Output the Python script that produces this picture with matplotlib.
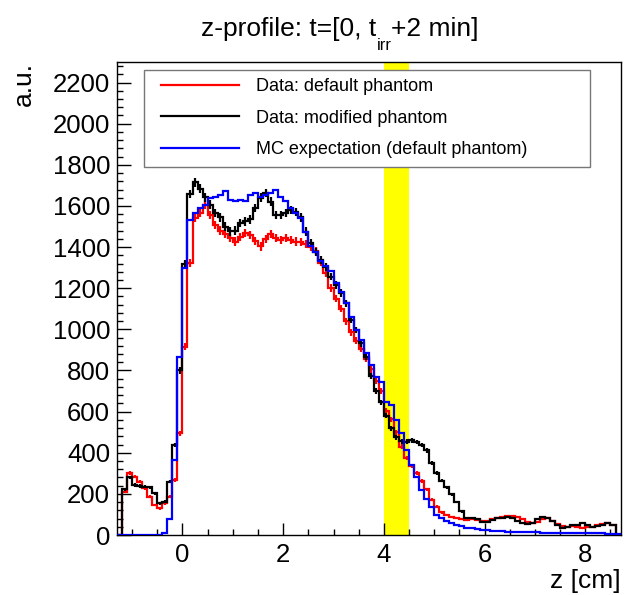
import numpy as np
import matplotlib
matplotlib.use("Agg")
import matplotlib.pyplot as plt
from matplotlib.lines import Line2D
from matplotlib.patches import Rectangle
from matplotlib.ticker import MultipleLocator

# ── Datos (100 bins de 0.1 cm entre -1.3 y 8.7 cm) ─────────────────────────────
z_edges = np.linspace(-1.3, 8.7, 101)

data_default = [
    0, 211, 300, 284, 260, 227, 187, 146, 130, 154,
    187, 268, 495, 916, 1322, 1541, 1565, 1606, 1557, 1508,
    1480, 1465, 1444, 1427, 1450, 1468, 1460, 1430, 1403, 1440,
    1465, 1444, 1436, 1444, 1436, 1427, 1425, 1415, 1400, 1380,
    1325, 1275, 1200, 1150, 1100, 1040, 985, 945, 905, 855,
    805, 748, 700, 605, 562, 500, 430, 375, 338, 300,
    264, 222, 172, 138, 110, 97, 89, 81, 76, 71,
    76, 73, 70, 70, 76, 81, 86, 93, 93, 86,
    76, 65, 57, 65, 76, 81, 70, 54, 44, 41,
    44, 38, 33, 38, 41, 47, 54, 57, 49, 0,
]
data_modified = [
    0, 222, 280, 243, 238, 235, 232, 203, 154, 162,
    260, 438, 800, 1318, 1658, 1716, 1683, 1642, 1606, 1565,
    1545, 1500, 1476, 1480, 1517, 1525, 1535, 1590, 1640, 1663,
    1620, 1557, 1557, 1565, 1581, 1570, 1545, 1475, 1418, 1377,
    1336, 1303, 1257, 1217, 1176, 1127, 1046, 997, 932, 868,
    775, 700, 645, 580, 520, 475, 455, 454, 460, 452,
    438, 412, 350, 300, 265, 232, 198, 160, 115, 82,
    81, 76, 65, 65, 73, 81, 81, 86, 81, 70,
    60, 54, 60, 76, 86, 81, 70, 49, 33, 38,
    49, 49, 60, 49, 41, 44, 49, 60, 49, 0,
]
mc_default = [
    0, 0, 0, 0, 0, 0, 0, 0, 0, 8,
    78, 365, 868, 1300, 1533, 1565, 1590, 1606, 1638, 1646,
    1654, 1671, 1630, 1622, 1630, 1622, 1654, 1663, 1646, 1654,
    1663, 1679, 1646, 1622, 1590, 1565, 1541, 1472, 1407, 1375,
    1330, 1306, 1282, 1225, 1184, 1127, 1062, 997, 948, 883,
    826, 769, 746, 649, 634, 560, 495, 414, 341, 284,
    219, 174, 134, 99, 82, 68, 58, 49, 43, 36,
    32, 28, 25, 23, 21, 20, 18, 16, 15, 15,
    14, 14, 13, 13, 12, 12, 11, 11, 10, 10,
    10, 9, 9, 9, 8, 8, 8, 7, 7, 7,
]
ERR_SCALE = 0.53          # barras de error ~ sqrt(N) en unidades a.u.
band = (4.0, 4.5)         # ventana resaltada en amarillo

labels = ["Data: default phantom", "Data: modified phantom",
          "MC expectation (default phantom)"]
colors = ["#FF0000", "#000000", "#0000FF"]

# ── Estilo ──────────────────────────────────────────────────────────────────────
plt.rcParams["font.family"] = ["Liberation Sans Narrow", "Liberation Sans"]

fig = plt.figure(figsize=(6.3, 5.95), dpi=100)
ax = fig.add_axes([0.1857, 0.1008, 0.7993, 0.795])

centers = 0.5 * (z_edges[:-1] + z_edges[1:])

ax.axvspan(band[0], band[1], color="#FFFF00", zorder=0, lw=0)

for vals, col in [(data_default, colors[0]), (data_modified, colors[1])]:
    v = np.array(vals, dtype=float)
    ax.stairs(v, z_edges, color=col, lw=1.6, baseline=None, zorder=2)
    m = v > 0
    ax.errorbar(centers[m], v[m], yerr=ERR_SCALE * np.sqrt(v[m]), fmt="none",
                ecolor=col, elinewidth=1.6, capsize=0, zorder=2)
ax.stairs(np.array(mc_default, float), z_edges, color=colors[2], lw=1.6,
          baseline=None, zorder=3)

ax.set_xlim(-1.3, 8.7)
ax.set_ylim(0, 2300)

ax.xaxis.set_major_locator(MultipleLocator(2))
ax.xaxis.set_minor_locator(MultipleLocator(0.5))
ax.yaxis.set_major_locator(MultipleLocator(200))
ax.yaxis.set_minor_locator(MultipleLocator(40))
ax.tick_params(axis="both", which="both", direction="in", labelsize=18.5,
               top=False, right=False, width=1)
ax.tick_params(axis="y", which="major", length=10, pad=5)
ax.tick_params(axis="y", which="minor", length=4.5)
ax.tick_params(axis="x", which="major", length=9, pad=6)
ax.tick_params(axis="x", which="minor", length=4.5)
for sp in ax.spines.values():
    sp.set_linewidth(1)

ax.set_xlabel("z [cm]", fontsize=19, loc="right", labelpad=1)
ax.set_ylabel("a.u.", fontsize=19, loc="top", labelpad=12)

# Leyenda: marco propio + entradas sin marco
ax.add_patch(Rectangle((0.0536, 0.778), 0.885, 0.205, transform=ax.transAxes,
                       facecolor="white", edgecolor="#777777", lw=1,
                       zorder=4))
handles = [Line2D([], [], color=c, lw=1.6) for c in colors]
leg = ax.legend(handles, labels, loc="upper left",
                bbox_to_anchor=(0.0874, 0.966), borderaxespad=0,
                borderpad=0, fontsize=13, handlelength=4.3,
                handletextpad=0.95, labelspacing=0.8, frameon=False)
leg.set_zorder(5)

# ── Título con subíndice estilo ROOT ───────────────────────────────────────────
ty = 1 - 36 / 595
fig.text(376 / 630, ty, "z-profile: t=[0, t", fontsize=19, ha="right",
         va="baseline")
fig.text(384 / 630, 1 - 50 / 595, "irr", fontsize=12, ha="center",
         va="baseline")
fig.text(391 / 630, ty, "+2 min]", fontsize=19, ha="left", va="baseline")

fig.savefig("out.png", dpi=100)
